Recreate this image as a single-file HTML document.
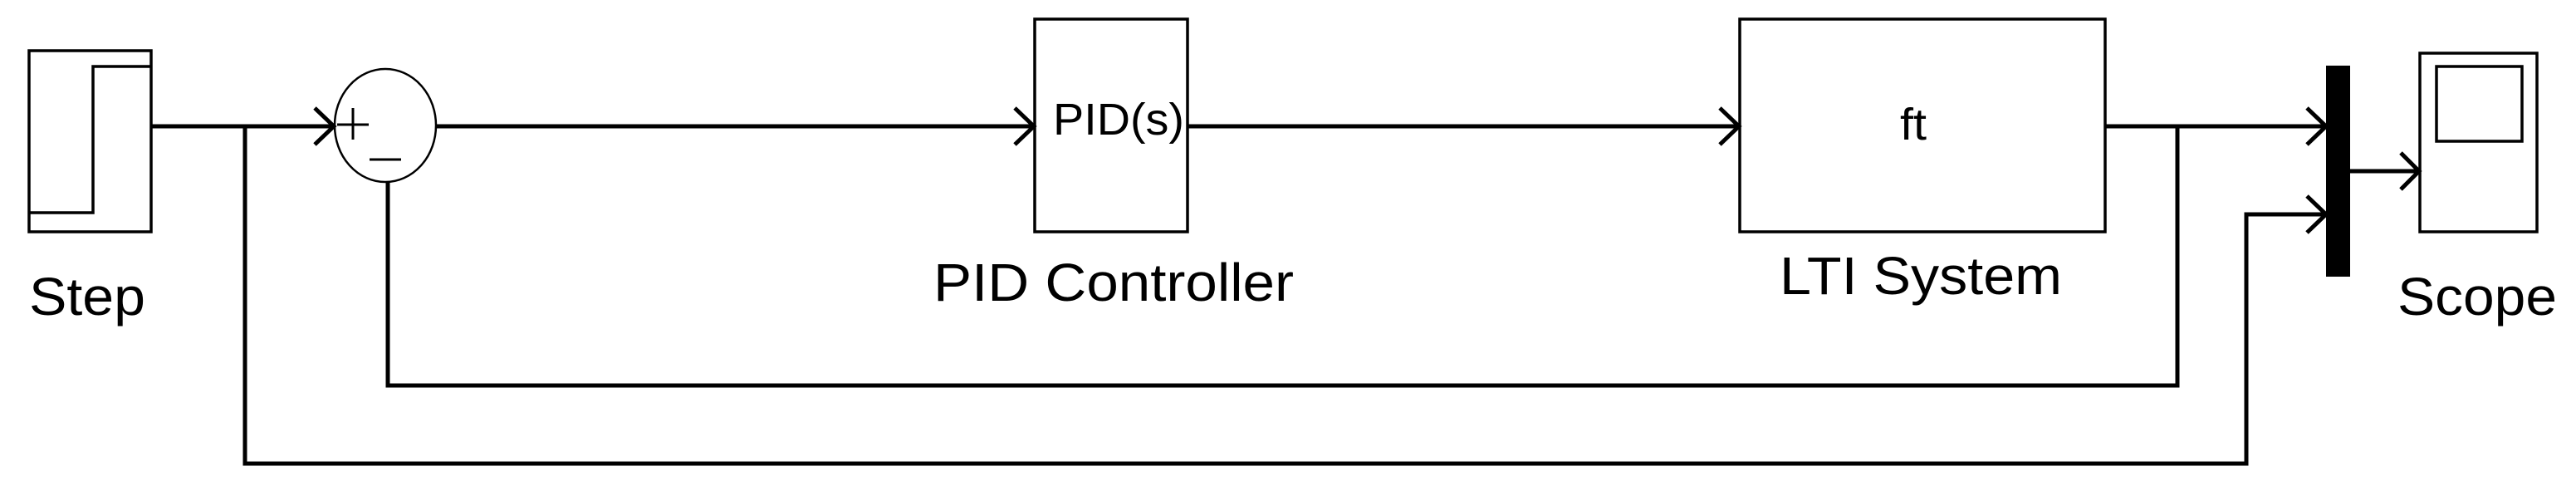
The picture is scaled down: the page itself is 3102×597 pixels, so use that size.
<!DOCTYPE html>
<html><head><style>html,body{margin:0;padding:0;background:#fff}svg{display:block}</style></head>
<body>
<svg width="3102" height="597" viewBox="0 0 3102 597" xmlns="http://www.w3.org/2000/svg" font-family="Liberation Sans, Arial, sans-serif">
<g fill="none" stroke="#000" stroke-width="3.5">
<rect x="35" y="61" width="147" height="218"/>
<polyline points="35,256 112,256 112,80 182,80"/>
<ellipse cx="464" cy="151" rx="61" ry="68" stroke-width="2.5"/>
<rect x="1246" y="23" width="184" height="256"/>
<rect x="2095" y="23" width="440" height="256"/>
<rect x="2914" y="64" width="141" height="215"/>
<rect x="2934" y="80" width="103" height="90"/>
</g>
<g fill="none" stroke="#000" stroke-width="5">
<line x1="182" y1="152" x2="402" y2="152"/>
<line x1="525" y1="152" x2="1246" y2="152"/>
<line x1="1430" y1="152" x2="2095" y2="152"/>
<line x1="2535" y1="152" x2="2801" y2="152"/>
<polyline points="295,152 295,558 2705,558 2705,258 2801,258"/>
<polyline points="467,219 467,464 2622,464 2622,152"/>
<line x1="2830" y1="206" x2="2914" y2="206"/>
<polyline points="379,130 402,152 379,174"/>
<polyline points="1222,130 1245,152 1222,174"/>
<polyline points="2071,130 2094,152 2071,174"/>
<polyline points="2778,130 2801,152 2778,174"/>
<polyline points="2778,236 2801,258 2778,280"/>
<polyline points="2891,184 2913,206 2891,228"/>
</g>
<g stroke="#000" stroke-width="3">
<line x1="406" y1="150" x2="444" y2="150"/>
<line x1="425" y1="130" x2="425" y2="168"/>
<line x1="445" y1="192" x2="483" y2="192"/>
</g>
<rect x="2801" y="79" width="29" height="254" fill="#000"/>
<g fill="#000" font-size="54">
<text x="1268" y="162" textLength="158" lengthAdjust="spacingAndGlyphs">PID(s)</text>
<text x="2288" y="168" textLength="32" lengthAdjust="spacingAndGlyphs">ft</text>
</g>
<g fill="#000" font-size="64">
<text x="35" y="379" textLength="140" lengthAdjust="spacingAndGlyphs">Step</text>
<text x="1124" y="362" textLength="434" lengthAdjust="spacingAndGlyphs">PID Controller</text>
<text x="2143" y="354" textLength="340" lengthAdjust="spacingAndGlyphs">LTI System</text>
<text x="2887" y="379" textLength="192" lengthAdjust="spacingAndGlyphs">Scope</text>
</g>
</svg>
</body></html>
